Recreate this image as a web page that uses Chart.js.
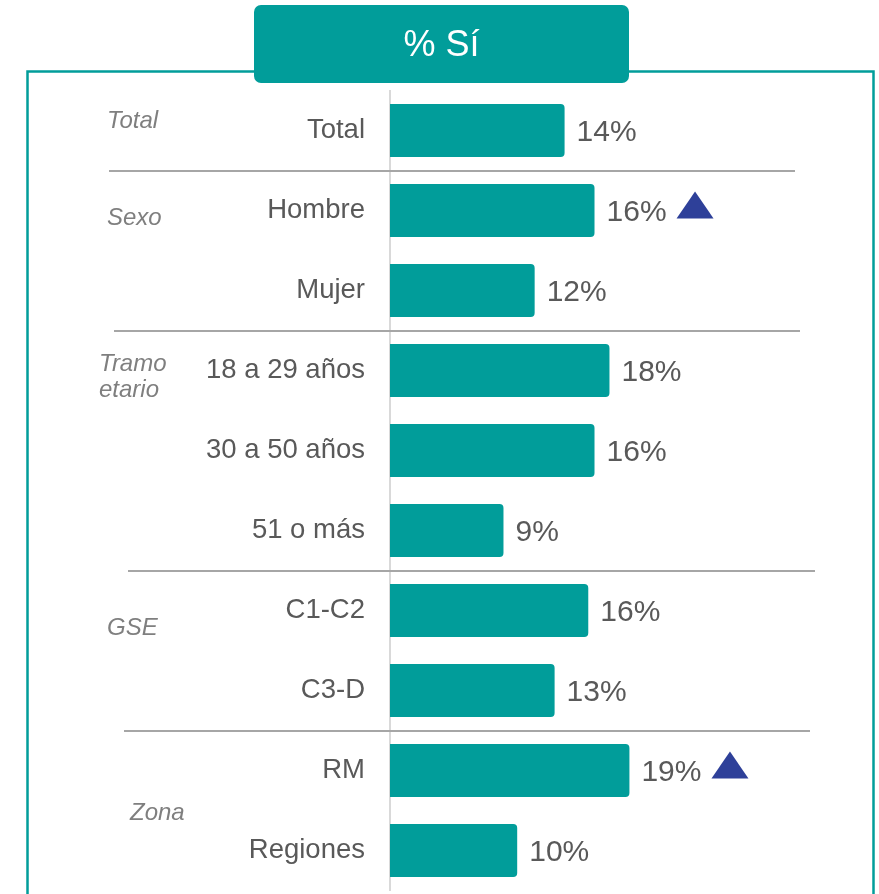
<!DOCTYPE html>
<html>
<head>
<meta charset="utf-8">
<script src="https://cdn.jsdelivr.net/npm/chart.js@4/dist/chart.umd.min.js"></script>
<style>
  body { margin: 0; background: #fff; }
  canvas { display: block; }
</style>
</head>
<body>
<canvas id="Chart" width="879" height="894"></canvas>
<script>
// categories and values (% que responde "Sí")
const categories = ['Total', 'Hombre', 'Mujer', '18 a 29 años', '30 a 50 años', '51 o más', 'C1-C2', 'C3-D', 'RM', 'Regiones'];
const values = [14.0, 16.4, 11.6, 17.6, 16.4, 9.1, 15.9, 13.2, 19.2, 10.2];
// significantly higher than the rest (triangle marker)
const sigUp = [false, true, false, false, false, false, false, false, true, false];

// group names and the rows they cover
const groupNames = [['Total'], ['Sexo'], ['Tramo', 'etario'], ['GSE'], ['Zona']];
const groupRows = [[0, 0], [1, 2], [3, 5], [6, 7], [8, 9]];

const chartTitle = '% Sí';

const TEAL = '#019d9a';
const FONT = 'Arial, "Liberation Sans", sans-serif';

const framePlugin = {
    id: 'frame',
    beforeDraw(chart) {
        const ctx = chart.ctx;
        ctx.save();
        ctx.fillStyle = '#fff';
        ctx.fillRect(0, 0, chart.width, chart.height);
        // outer frame
        ctx.strokeStyle = TEAL;
        ctx.lineWidth = 2.5;
        ctx.strokeRect(27.5, 71.5, 846, 900);
        // title box
        ctx.fillStyle = TEAL;
        ctx.beginPath();
        ctx.roundRect(254, 5, 375, 78, 7);
        ctx.fill();
        ctx.fillStyle = '#fff';
        ctx.font = '36px ' + FONT;
        ctx.textAlign = 'center';
        ctx.textBaseline = 'middle';
        ctx.fillText(chartTitle, 441.5, 46);
        ctx.restore();
    }
};

const groupsPlugin = {
    id: 'groups',
    afterDraw(chart) {
        const ctx = chart.ctx;
        const y = chart.scales.y;
        const sepX = [[109, 795], [114, 800], [128, 815], [124, 810]];
        // label anchor: x, and offset in rows from first row of group
        const labelPos = [[107, -0.12], [107, 0.1], [99, 0.08], [107, 0.22], [130, 0.54]];
        ctx.save();
        ctx.strokeStyle = '#a6a6a6';
        ctx.lineWidth = 2;
        for (let g = 0; g < groupRows.length - 1; g++) {
            const last = groupRows[g][1];
            const yy = Math.round((y.getPixelForValue(last) + y.getPixelForValue(last + 1)) / 2);
            ctx.beginPath();
            ctx.moveTo(sepX[g][0], yy);
            ctx.lineTo(sepX[g][1], yy);
            ctx.stroke();
        }
        ctx.fillStyle = '#7f7f7f';
        ctx.font = 'italic 24px ' + FONT;
        ctx.textAlign = 'left';
        ctx.textBaseline = 'middle';
        const step = y.getPixelForValue(1) - y.getPixelForValue(0);
        groupNames.forEach((lines, g) => {
            const cy = y.getPixelForValue(groupRows[g][0]) + labelPos[g][1] * step;
            const lh = 26;
            lines.forEach((txt, k) => {
                const ty = cy + (k - (lines.length - 1) / 2) * lh;
                ctx.fillText(txt, labelPos[g][0], ty);
            });
        });
        ctx.restore();
    }
};

const valueLabels = {
    id: 'valueLabels',
    afterDatasetsDraw(chart) {
        const ctx = chart.ctx;
        const meta = chart.getDatasetMeta(0);
        ctx.save();
        ctx.font = '30px ' + FONT;
        ctx.textAlign = 'left';
        ctx.textBaseline = 'middle';
        meta.data.forEach((bar, i) => {
            const txt = Math.round(values[i]) + '%';
            const x = bar.x + 12;
            ctx.fillStyle = '#595959';
            ctx.fillText(txt, x, bar.y + 2);
            if (sigUp[i]) {
                const tx = x + ctx.measureText(txt).width + 10;
                ctx.fillStyle = '#2e4099';
                ctx.beginPath();
                ctx.moveTo(tx, bar.y + 8);
                ctx.lineTo(tx + 37, bar.y + 8);
                ctx.lineTo(tx + 18.5, bar.y - 19);
                ctx.closePath();
                ctx.fill();
            }
        });
        ctx.restore();
    }
};

let barChartElement = document.getElementById('Chart').getContext('2d');
let barChart = new Chart(barChartElement, {
    type: 'bar',
    data: {
        labels: categories,
        datasets: [{
            data: values,
            backgroundColor: TEAL,
            borderRadius: 4,
            borderSkipped: 'start',
            categoryPercentage: 1,
            barPercentage: 0.66
        }]
    },
    options: {
        indexAxis: 'y',
        responsive: false,
        animation: false,
        layout: {
            padding: { left: 0, top: 90.5, bottom: 3.5, right: 114.9 }
        },
        plugins: {
            legend: { display: false },
            tooltip: { enabled: false },
            title: { display: false }
        },
        scales: {
            x: {
                display: false,
                min: 0,
                max: 30
            },
            y: {
                afterFit(scale) {
                    scale.width = 390;
                    scale.paddingTop = 0;
                    scale.paddingBottom = 0;
                },
                grid: { display: false, drawTicks: false },
                border: { display: true, color: '#d9d9d9', width: 2 },
                ticks: {
                    padding: 25,
                    color: '#595959',
                    font: { family: FONT, size: 27.5 }
                }
            }
        }
    },
    plugins: [framePlugin, groupsPlugin, valueLabels]
});
</script>
</body>
</html>
